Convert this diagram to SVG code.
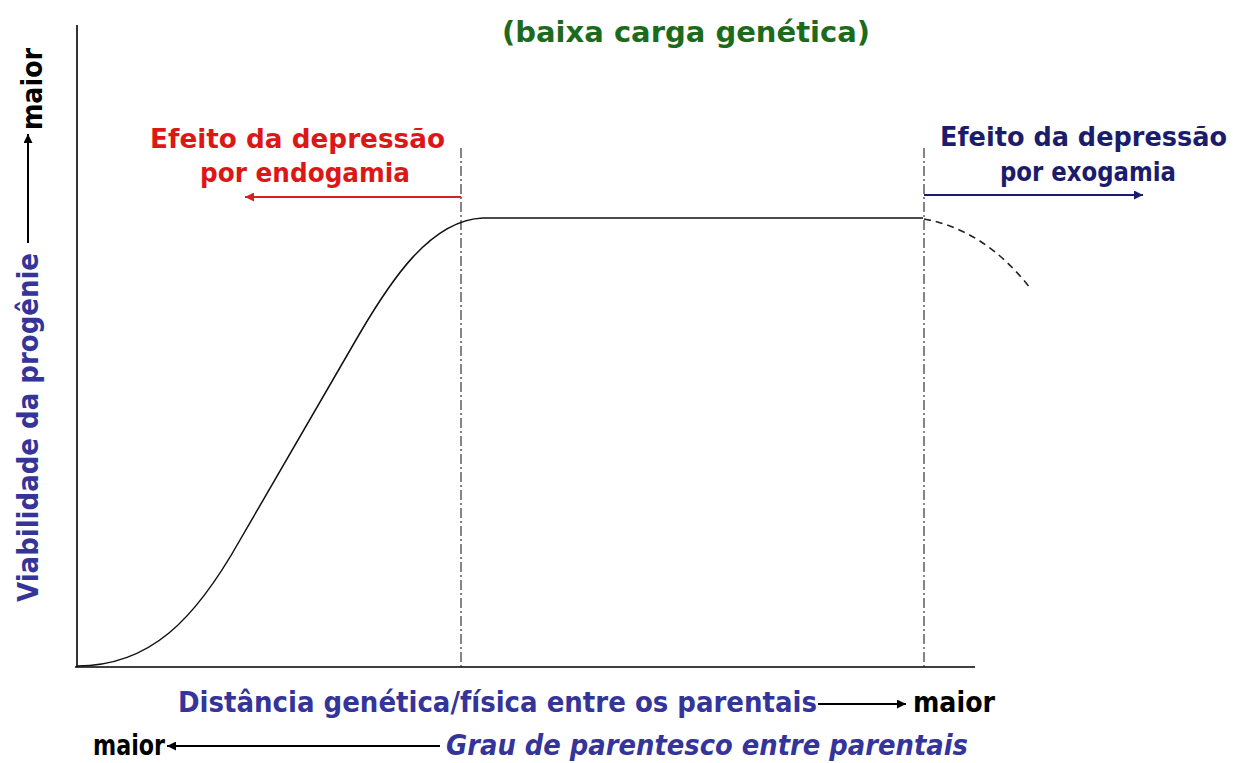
<svg xmlns="http://www.w3.org/2000/svg" width="1241" height="763" viewBox="0 0 1241 763">
<defs>
<style>
text{font-family:"DejaVu Sans","Liberation Sans",sans-serif;font-weight:bold;font-size:28px}
.effect{font-size:26px}
.red{fill:#dc1717}
.navy{fill:#1c1c6c}
.purple{fill:#34349a}
.green{fill:#1c6b1c}
.blk{fill:#000}
.axis{stroke:#000;stroke-width:1.6;fill:none}
.curve{stroke:#111;stroke-width:1.5;fill:none}
.guide{stroke:#222;stroke-width:1.1;fill:none;stroke-dasharray:10 3 2 3}
.dash{stroke:#222;stroke-width:1.6;fill:none;stroke-dasharray:7 5}
.arr-k{stroke:#000;stroke-width:2;fill:none;marker-end:url(#ah-k)}
.arr-r{stroke:#d42020;stroke-width:2;fill:none;marker-end:url(#ah-r)}
.arr-b{stroke:#1c1c6c;stroke-width:2;fill:none;marker-end:url(#ah-b)}
</style>
<marker id="ah-k" viewBox="0 0 10 10" refX="10" refY="5" markerWidth="11" markerHeight="9" markerUnits="userSpaceOnUse" orient="auto"><path d="M0,0 L10,5 L0,10 z" fill="#000"/></marker>
<marker id="ah-r" viewBox="0 0 10 10" refX="10" refY="5" markerWidth="11" markerHeight="9" markerUnits="userSpaceOnUse" orient="auto"><path d="M0,0 L10,5 L0,10 z" fill="#d42020"/></marker>
<marker id="ah-b" viewBox="0 0 10 10" refX="10" refY="5" markerWidth="11" markerHeight="9" markerUnits="userSpaceOnUse" orient="auto"><path d="M0,0 L10,5 L0,10 z" fill="#1c1c6c"/></marker>
</defs>
<rect width="1241" height="763" fill="#fff"/>

<g id="axes">
<line class="axis" x1="77" y1="25" x2="77" y2="667"/>
<line class="axis" x1="75" y1="667" x2="975" y2="667"/>
</g>

<g id="guides">
<line class="guide" x1="461" y1="148" x2="461" y2="667"/>
<line class="guide" x1="924" y1="148" x2="924" y2="667"/>
</g>

<g id="curve">
<path class="curve" d="M77,666 C150,666 195,620 240,540 L360,333 C390,282 430,220 483,218 L923,218"/>
<path class="dash" d="M924,219 Q985,230 1030,288"/>
</g>

<g id="title">
<text class="green" x="502" y="42" textLength="368" lengthAdjust="spacingAndGlyphs">(baixa carga genética)</text>
</g>

<g id="endogamia">
<text class="red effect" x="150" y="148" textLength="295" lengthAdjust="spacingAndGlyphs">Efeito da depressão</text>
<text class="red effect" x="200" y="182" textLength="210" lengthAdjust="spacingAndGlyphs">por endogamia</text>
</g>

<g id="exogamia">
<text class="navy effect" x="940" y="146" textLength="287" lengthAdjust="spacingAndGlyphs">Efeito da depressão</text>
<text class="navy effect" x="1000" y="181" textLength="176" lengthAdjust="spacingAndGlyphs">por exogamia</text>
</g>

<g id="y-label">
<text class="purple" transform="translate(38,602) rotate(-90)" textLength="349" lengthAdjust="spacingAndGlyphs">Viabilidade da progênie</text>
<text class="blk" transform="translate(42,130) rotate(-90)" textLength="82" lengthAdjust="spacingAndGlyphs">maior</text>
</g>

<g id="x-label-distance">
<text class="purple" x="178" y="712" textLength="639" lengthAdjust="spacingAndGlyphs">Distância genética/física entre os parentais</text>
<text class="blk" x="913" y="712" textLength="82" lengthAdjust="spacingAndGlyphs">maior</text>
</g>

<g id="x-label-parentesco">
<text class="purple" x="446" y="755" font-style="italic" textLength="522" lengthAdjust="spacingAndGlyphs">Grau de parentesco entre parentais</text>
<text class="blk" x="93" y="755" textLength="72" lengthAdjust="spacingAndGlyphs">maior</text>
</g>

<g id="connectors">
<line class="arr-r" x1="461" y1="197" x2="245" y2="197"/>
<line class="arr-b" x1="924" y1="195" x2="1143" y2="195"/>
<line class="arr-k" x1="818" y1="704" x2="906" y2="704"/>
<line class="arr-k" x1="440" y1="746" x2="167" y2="746"/>
<line class="arr-k" x1="28" y1="243" x2="28" y2="134"/>
</g>
</svg>
